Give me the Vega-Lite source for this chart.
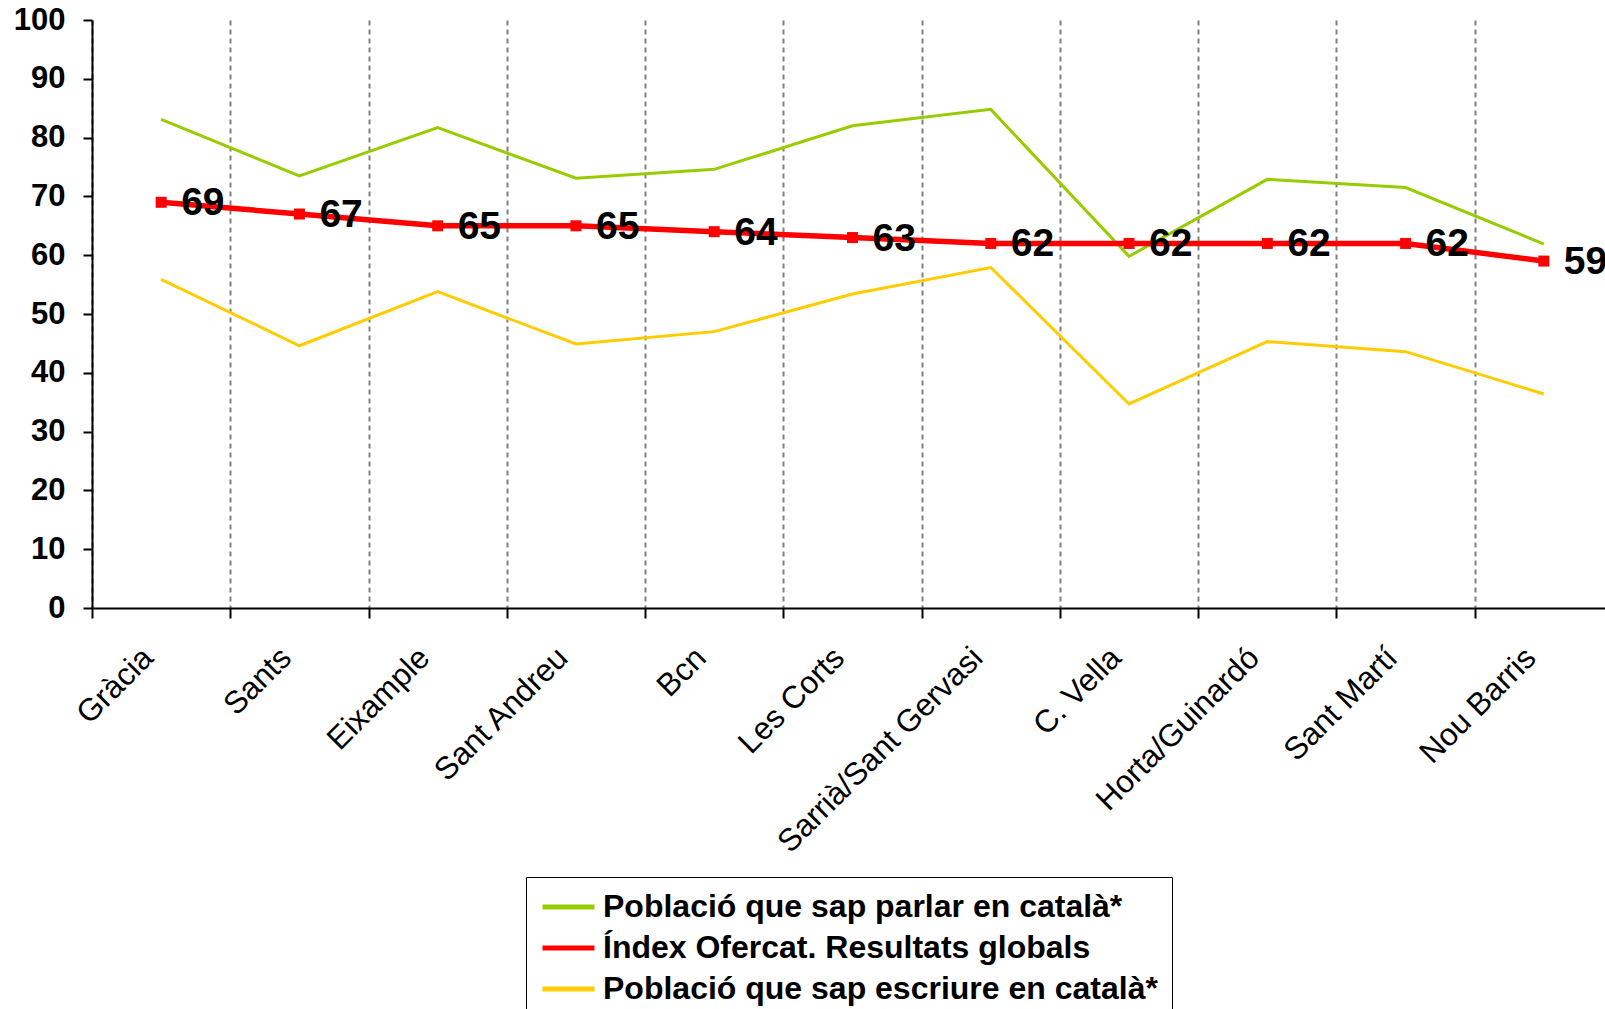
{
  "$schema": "https://vega.github.io/schema/vega-lite/v6.json",
  "width": 1513,
  "height": 588,
  "autosize": {"type": "none"},
  "padding": {"left": 92, "top": 20, "right": 0, "bottom": 401},
  "background": "white",
  "config": {"font": "Liberation Sans", "view": {"stroke": null}},
  "data": {"values": [
    {"districte": "Gràcia", "serie": "Població que sap parlar en català*", "valor": 83.1},
    {"districte": "Gràcia", "serie": "Població que sap escriure en català*", "valor": 55.9},
    {"districte": "Gràcia", "serie": "Índex Ofercat. Resultats globals", "valor": 69},
    {"districte": "Sants", "serie": "Població que sap parlar en català*", "valor": 73.5},
    {"districte": "Sants", "serie": "Població que sap escriure en català*", "valor": 44.6},
    {"districte": "Sants", "serie": "Índex Ofercat. Resultats globals", "valor": 67},
    {"districte": "Eixample", "serie": "Població que sap parlar en català*", "valor": 81.7},
    {"districte": "Eixample", "serie": "Població que sap escriure en català*", "valor": 53.8},
    {"districte": "Eixample", "serie": "Índex Ofercat. Resultats globals", "valor": 65},
    {"districte": "Sant Andreu", "serie": "Població que sap parlar en català*", "valor": 73.1},
    {"districte": "Sant Andreu", "serie": "Població que sap escriure en català*", "valor": 44.9},
    {"districte": "Sant Andreu", "serie": "Índex Ofercat. Resultats globals", "valor": 65},
    {"districte": "Bcn", "serie": "Població que sap parlar en català*", "valor": 74.6},
    {"districte": "Bcn", "serie": "Població que sap escriure en català*", "valor": 47.0},
    {"districte": "Bcn", "serie": "Índex Ofercat. Resultats globals", "valor": 64},
    {"districte": "Les Corts", "serie": "Població que sap parlar en català*", "valor": 82.0},
    {"districte": "Les Corts", "serie": "Població que sap escriure en català*", "valor": 53.4},
    {"districte": "Les Corts", "serie": "Índex Ofercat. Resultats globals", "valor": 63},
    {"districte": "Sarrià/Sant Gervasi", "serie": "Població que sap parlar en català*", "valor": 84.8},
    {"districte": "Sarrià/Sant Gervasi", "serie": "Població que sap escriure en català*", "valor": 57.9},
    {"districte": "Sarrià/Sant Gervasi", "serie": "Índex Ofercat. Resultats globals", "valor": 62},
    {"districte": "C. Vella", "serie": "Població que sap parlar en català*", "valor": 59.8},
    {"districte": "C. Vella", "serie": "Població que sap escriure en català*", "valor": 34.7},
    {"districte": "C. Vella", "serie": "Índex Ofercat. Resultats globals", "valor": 62},
    {"districte": "Horta/Guinardó", "serie": "Població que sap parlar en català*", "valor": 72.9},
    {"districte": "Horta/Guinardó", "serie": "Població que sap escriure en català*", "valor": 45.3},
    {"districte": "Horta/Guinardó", "serie": "Índex Ofercat. Resultats globals", "valor": 62},
    {"districte": "Sant Martí", "serie": "Població que sap parlar en català*", "valor": 71.5},
    {"districte": "Sant Martí", "serie": "Població que sap escriure en català*", "valor": 43.6},
    {"districte": "Sant Martí", "serie": "Índex Ofercat. Resultats globals", "valor": 62},
    {"districte": "Nou Barris", "serie": "Població que sap parlar en català*", "valor": 61.9},
    {"districte": "Nou Barris", "serie": "Població que sap escriure en català*", "valor": 36.4},
    {"districte": "Nou Barris", "serie": "Índex Ofercat. Resultats globals", "valor": 59}
  ]},
  "encoding": {
    "x": {
      "field": "districte", "type": "nominal", "sort": null,
      "scale": {"type": "point", "padding": 0.5, "range": [0, 1521]},
      "axis": {
        "title": null,
        "domainColor": "black", "domainWidth": 2,
        "tickColor": "black", "tickWidth": 2, "tickSize": 10,
        "tickOffset": -69.14, "labelOffset": 56,
        "labelAngle": -45, "labelAlign": "right", "labelBaseline": "middle",
        "labelFontSize": 31.5, "labelColor": "black", "labelPadding": 35,
        "labelOverlap": false, "labelBound": false, "labelLimit": 1000,
        "grid": true, "gridColor": "#808080", "gridDash": [5, 4], "gridWidth": 2
      }
    },
    "y": {
      "field": "valor", "type": "quantitative",
      "scale": {"domain": [0, 100], "nice": false},
      "axis": {
        "title": null, "values": [0, 10, 20, 30, 40, 50, 60, 70, 80, 90, 100],
        "labelFontSize": 31, "labelFontWeight": "bold", "labelColor": "black",
        "labelPadding": 18, "tickSize": 9, "tickWidth": 2, "tickColor": "black",
        "domainColor": "black", "domainWidth": 2, "grid": false
      }
    }
  },
  "layer": [
    {
      "mark": {"type": "line", "strokeJoin": "miter", "strokeCap": "butt"},
      "encoding": {
        "color": {
          "field": "serie", "type": "nominal",
          "scale": {
            "domain": ["Població que sap parlar en català*", "Índex Ofercat. Resultats globals", "Població que sap escriure en català*"],
            "range": ["#99CC00", "#FF0000", "#FFCC00"]
          },
          "legend": {
            "orient": "none", "legendX": 434, "legendY": 857,
            "title": null, "labelFontSize": 32, "labelFontWeight": "bold", "labelColor": "black",
            "labelLimit": 1000, "labelOffset": 6,
            "symbolType": "stroke", "symbolSize": 2700, "symbolStrokeWidth": 5,
            "clipHeight": 32,
            "strokeColor": "black", "fillColor": "white", "padding": 14, "rowPadding": 9
          }
        },
        "strokeWidth": {
          "condition": {"test": "datum.serie === 'Índex Ofercat. Resultats globals'", "value": 5.5},
          "value": 3
        }
      }
    },
    {
      "transform": [{"filter": "datum.serie === 'Índex Ofercat. Resultats globals'"}],
      "mark": {"type": "point", "shape": "square", "filled": true, "size": 121, "color": "#FF0000", "opacity": 1}
    },
    {
      "transform": [{"filter": "datum.serie === 'Índex Ofercat. Resultats globals'"}],
      "mark": {"type": "text", "align": "left", "baseline": "middle", "dx": 20, "dy": 1, "fontSize": 39, "fontWeight": "bold", "color": "black"},
      "encoding": {"text": {"field": "valor", "type": "quantitative"}}
    }
  ]
}
